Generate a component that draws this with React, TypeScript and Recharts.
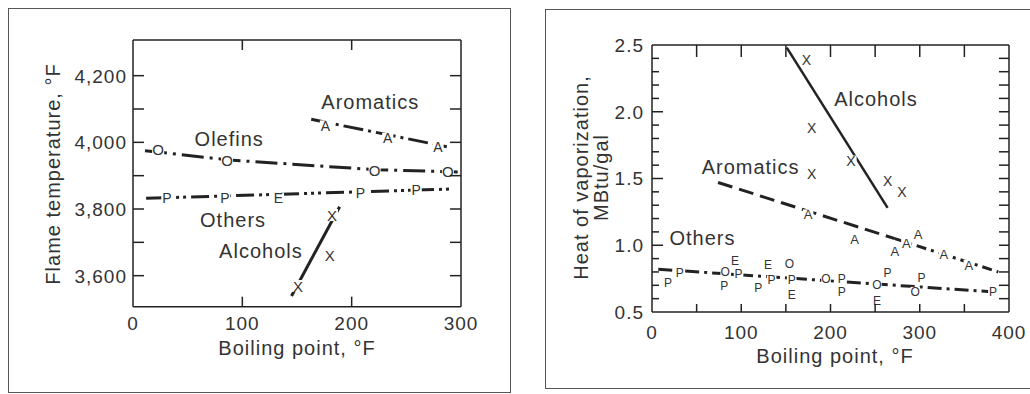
import React from 'react';
import { ComposedChart, Line, Scatter, XAxis, YAxis } from 'recharts';

const FONT = '"Liberation Sans", Arial, Helvetica, sans-serif';
const INK = '#222222';
const TEXT_INK = '#333333';

// ---------- Left panel: flame temperature ----------
const flameXDomain = [0, 300];
const flameYDomain = [3507, 4307];
const flameXLabels = [0, 100, 200, 300];
const flameXTickMarks = [100, 200];
const flameYLabels = [3600, 3800, 4000, 4200];
const flameYTickMarks = [3600, 3700, 3800, 3900, 4000, 4100, 4200];

const flameAromaticsLine = [{ x: 163, y: 4069 }, { x: 287, y: 3987 }];
const flameOlefinsLine = [{ x: 11, y: 3975 }, { x: 88, y: 3947 }, { x: 221, y: 3918 }, { x: 297, y: 3911 }];
const flameOthersLine = [{ x: 12, y: 3832 }, { x: 292, y: 3860 }];
const flameAlcoholsLine = [{ x: 145, y: 3539 }, { x: 189, y: 3807 }];

const flameAromaticsPoints = [
  { x: 176, y: 4049, m: 'A' },
  { x: 233, y: 4012, m: 'A' },
  { x: 279, y: 3987, m: 'A' },
];
const flameOlefinsPoints = [
  { x: 23, y: 3980, m: 'O' },
  { x: 86, y: 3947, m: 'O' },
  { x: 221, y: 3917, m: 'O' },
  { x: 288, y: 3912, m: 'O' },
];
const flameOthersPoints = [
  { x: 31, y: 3832, m: 'P' },
  { x: 84, y: 3834, m: 'P' },
  { x: 133, y: 3832, m: 'E' },
  { x: 208, y: 3849, m: 'P' },
  { x: 259, y: 3857, m: 'P' },
];
const flameAlcoholsPoints = [
  { x: 151, y: 3569, m: 'X' },
  { x: 180, y: 3662, m: 'X' },
  { x: 182, y: 3782, m: 'X' },
];
const flameSeriesLabels = [
  { x: 217, y: 4101, text: 'Aromatics' },
  { x: 88, y: 3990, text: 'Olefins' },
  { x: 91.5, y: 3747, text: 'Others' },
  { x: 117, y: 3653, text: 'Alcohols' },
];

// ---------- Right panel: heat of vaporization ----------
const heatXDomain = [0, 400];
const heatYDomain = [0.5, 2.5];
const heatXLabels = [0, 100, 200, 300, 400];
const heatXTickMarks = [50, 100, 150, 200, 250, 300, 350];
const heatYLabels = [0.5, 1.0, 1.5, 2.0, 2.5];
const heatYTickMarks = [0.6, 0.7, 0.8, 0.9, 1.0, 1.1, 1.2, 1.3, 1.4, 1.5, 1.6, 1.7, 1.8, 1.9, 2.0, 2.1, 2.2, 2.3, 2.4];
const heatYMajorTickMarks = [1.0, 1.5, 2.0];

const heatAlcoholsLine = [{ x: 151, y: 2.48 }, { x: 264, y: 1.28 }];
const heatAromaticsDashed = [{ x: 74, y: 1.47 }, { x: 272, y: 1.05 }];
const heatAromaticsDashDot = [{ x: 272, y: 1.05 }, { x: 388, y: 0.8 }];
const heatOthersLine = [{ x: 7, y: 0.82 }, { x: 384, y: 0.65 }];

const heatAlcoholsPoints = [
  { x: 173, y: 2.39, m: 'X' },
  { x: 179, y: 1.88, m: 'X' },
  { x: 179, y: 1.53, m: 'X' },
  { x: 223, y: 1.63, m: 'X' },
  { x: 264, y: 1.48, m: 'X' },
  { x: 280, y: 1.4, m: 'X' },
];
const heatAromaticsPoints = [
  { x: 175, y: 1.23, m: 'A' },
  { x: 227, y: 1.04, m: 'A' },
  { x: 272, y: 0.95, m: 'A' },
  { x: 285, y: 1.01, m: 'A' },
  { x: 298, y: 1.08, m: 'A' },
  { x: 327, y: 0.93, m: 'A' },
  { x: 355, y: 0.852, m: 'A' },
];
const heatOthersPoints = [
  { x: 18, y: 0.715, m: 'P' },
  { x: 31, y: 0.795, m: 'P' },
  { x: 81, y: 0.698, m: 'P' },
  { x: 82, y: 0.798, m: 'O' },
  { x: 93, y: 0.882, m: 'E' },
  { x: 97, y: 0.782, m: 'P' },
  { x: 119, y: 0.678, m: 'P' },
  { x: 130, y: 0.855, m: 'E' },
  { x: 134, y: 0.738, m: 'P' },
  { x: 154, y: 0.862, m: 'O' },
  { x: 156.5, y: 0.74, m: 'P' },
  { x: 156.5, y: 0.625, m: 'E' },
  { x: 195, y: 0.745, m: 'O' },
  { x: 212.5, y: 0.748, m: 'P' },
  { x: 212.5, y: 0.648, m: 'P' },
  { x: 252, y: 0.702, m: 'O' },
  { x: 252, y: 0.585, m: 'E' },
  { x: 264, y: 0.79, m: 'P' },
  { x: 295, y: 0.652, m: 'O' },
  { x: 302, y: 0.755, m: 'P' },
  { x: 382, y: 0.652, m: 'P' },
];
const heatSeriesLabels = [
  { x: 251, y: 2.043, text: 'Alcohols' },
  { x: 110.5, y: 1.534, text: 'Aromatics' },
  { x: 56.5, y: 1.002, text: 'Others' },
];

// ---------- plot boxes (page px), matching the chart margins below ----------
const LEFT_BOX = { left: 133, top: 40, width: 328, height: 266.67 };
const RIGHT_BOX = { left: 520 + 132, top: 45, width: 357, height: 267 };

// ---------- shared renderers ----------
const TICK_FONT = 19;
const axisLineStyle = { stroke: INK, strokeWidth: 1.5 };

const bottomLabel = (baselineGap: number) => (props: any) => {
  const { x, y, payload } = props;
  return (
    <text
      x={x}
      y={Number(y) + baselineGap}
      textAnchor="middle"
      fontSize={TICK_FONT}
      letterSpacing={1}
      fontFamily={FONT}
      fill={TEXT_INK}
    >
      {String(payload.value)}
    </text>
  );
};

const leftLabel = (gap: number, fmt: (v: number) => string) => (props: any) => {
  const { x, y, payload } = props;
  return (
    <text
      x={Number(x) - gap}
      y={y}
      dy="0.36em"
      textAnchor="end"
      fontSize={TICK_FONT}
      letterSpacing={1}
      fontFamily={FONT}
      fill={TEXT_INK}
    >
      {fmt(payload.value)}
    </text>
  );
};

const letterShape = (size: number) => (props: any) => {
  const { cx, cy, payload } = props;
  const w = size * 0.8;
  const h = size * 0.8;
  return (
    <g>
      <rect x={cx - w / 2} y={cy - h / 2} width={w} height={h} fill="#ffffff" />
      <text
        x={cx}
        y={cy}
        textAnchor="middle"
        dominantBaseline="central"
        fontSize={size}
        fontFamily={FONT}
        fill={TEXT_INK}
      >
        {payload.m}
      </text>
    </g>
  );
};

const annotationShape = (props: any) => {
  const { cx, cy, payload } = props;
  return (
    <text x={cx} y={cy} textAnchor="middle" fontSize={20} letterSpacing={1} fontFamily={FONT} fill={TEXT_INK}>
      {payload.text}
    </text>
  );
};

const titleStyle = { fontSize: 20, letterSpacing: 1, fontFamily: FONT, fill: TEXT_INK } as const;

// ---------- inward tick marks for the frame (overlay, same linear mapping as the axes) ----------
type Box = { left: number; top: number; width: number; height: number };
const xPx = (box: Box, d: number[], v: number) => box.left + ((v - d[0]) / (d[1] - d[0])) * box.width;
const yPx = (box: Box, d: number[], v: number) => box.top + box.height - ((v - d[0]) / (d[1] - d[0])) * box.height;

const FrameTicks = ({
  box,
  xd,
  yd,
  xTicks,
  yTicks,
  yMajor,
  bottomLen,
  topLen,
  leftLen,
  leftMajorLen,
  rightLen,
}: {
  box: Box;
  xd: number[];
  yd: number[];
  xTicks: number[];
  yTicks: number[];
  yMajor: number[];
  bottomLen: number;
  topLen: number;
  leftLen: number;
  leftMajorLen: number;
  rightLen: number;
}) => {
  const bottom = box.top + box.height;
  const right = box.left + box.width;
  const isMajor = (v: number) => yMajor.some((m) => Math.abs(m - v) < 1e-6);
  return (
    <g stroke={INK} strokeWidth={1.5}>
      {xTicks.map((v) => {
        const x = xPx(box, xd, v);
        return (
          <g key={`x${v}`}>
            <line x1={x} x2={x} y1={bottom} y2={bottom - bottomLen} />
            <line x1={x} x2={x} y1={box.top} y2={box.top + topLen} />
          </g>
        );
      })}
      {yTicks.map((v) => {
        const y = yPx(box, yd, v);
        return (
          <g key={`y${v}`}>
            <line x1={box.left} x2={box.left + (isMajor(v) ? leftMajorLen : leftLen)} y1={y} y2={y} />
            <line x1={right} x2={right - rightLen} y1={y} y2={y} />
          </g>
        );
      })}
    </g>
  );
};

export default function App() {
  return (
    <div
      style={{
        position: 'absolute',
        left: 0,
        top: 0,
        width: 1030,
        height: 394,
        background: '#ffffff',
        overflow: 'hidden',
        fontFamily: FONT,
      }}
    >
      <div
        style={{
          position: 'absolute',
          left: 7.5,
          top: 7.5,
          width: 503,
          height: 385,
          border: '1.5px solid #555',
          boxSizing: 'border-box',
        }}
      />
      <div
        style={{
          position: 'absolute',
          left: 544.5,
          top: 8.5,
          width: 540,
          height: 380.5,
          border: '1.5px solid #555',
          boxSizing: 'border-box',
        }}
      />

      {/* Left chart */}
      <div style={{ position: 'absolute', left: 0, top: 0 }}>
        <ComposedChart
          width={520}
          height={394}
          margin={{ top: 40, right: 59, bottom: 57.33, left: 73 }}
          style={{ fontFamily: FONT }}
        >
          <XAxis
            type="number"
            dataKey="x"
            domain={flameXDomain}
            allowDataOverflow
            ticks={flameXLabels}
            interval={0}
            tickLine={false}
            tickSize={0}
            tickMargin={0}
            axisLine={axisLineStyle}
            tick={bottomLabel(23.6)}
            height={30}
            label={() => (
              <text x={297} y={354.5} textAnchor="middle" {...titleStyle}>
                Boiling point, °F
              </text>
            )}
          />
          <XAxis
            xAxisId="tm"
            orientation="top"
            type="number"
            domain={flameXDomain}
            allowDataOverflow
            mirror
            tick={false}
            tickLine={false}
            axisLine={axisLineStyle}
            height={1}
          />
          <YAxis
            type="number"
            dataKey="y"
            domain={flameYDomain}
            allowDataOverflow
            ticks={flameYLabels}
            interval={0}
            tickLine={false}
            tickSize={0}
            tickMargin={0}
            axisLine={axisLineStyle}
            tick={leftLabel(6, (v) => v.toLocaleString('en-US'))}
            width={60}
            label={() => (
              <text x={60} y={174} textAnchor="middle" transform="rotate(-90 60 174)" {...titleStyle}>
                Flame temperature, °F
              </text>
            )}
          />
          <YAxis
            yAxisId="rm"
            orientation="right"
            type="number"
            domain={flameYDomain}
            allowDataOverflow
            mirror
            tick={false}
            tickLine={false}
            axisLine={axisLineStyle}
            width={1}
          />

          <Line data={flameAromaticsLine} dataKey="y" type="linear" stroke={INK} strokeWidth={3} strokeDasharray="20 5 3 5" dot={false} activeDot={false} isAnimationActive={false} />
          <Line data={flameOlefinsLine} dataKey="y" type="linear" stroke={INK} strokeWidth={3} strokeDasharray="22 6 3 6" dot={false} activeDot={false} isAnimationActive={false} />
          <Line data={flameOthersLine} dataKey="y" type="linear" stroke={INK} strokeWidth={3} strokeDasharray="18 5 3 4 3 4 3 5" dot={false} activeDot={false} isAnimationActive={false} />
          <Line data={flameAlcoholsLine} dataKey="y" type="linear" stroke={INK} strokeWidth={3} dot={false} activeDot={false} isAnimationActive={false} />

          <Scatter data={flameAromaticsPoints} shape={letterShape(14)} isAnimationActive={false} />
          <Scatter data={flameOlefinsPoints} shape={letterShape(15)} isAnimationActive={false} />
          <Scatter data={flameOthersPoints} shape={letterShape(14)} isAnimationActive={false} />
          <Scatter data={flameAlcoholsPoints} shape={letterShape(15)} isAnimationActive={false} />
          <Scatter data={flameSeriesLabels} shape={annotationShape} isAnimationActive={false} />
        </ComposedChart>
      </div>

      {/* Right chart */}
      <div style={{ position: 'absolute', left: 520, top: 0 }}>
        <ComposedChart
          width={510}
          height={394}
          margin={{ top: 45, right: 21, bottom: 52, left: 72 }}
          style={{ fontFamily: FONT }}
        >
          <XAxis
            type="number"
            dataKey="x"
            domain={heatXDomain}
            allowDataOverflow
            ticks={heatXLabels}
            interval={0}
            tickLine={false}
            tickSize={0}
            tickMargin={0}
            axisLine={axisLineStyle}
            tick={bottomLabel(26.6)}
            height={30}
            label={() => (
              <text x={315} y={362.5} textAnchor="middle" {...titleStyle}>
                Boiling point, °F
              </text>
            )}
          />
          <XAxis
            xAxisId="tm"
            orientation="top"
            type="number"
            domain={heatXDomain}
            allowDataOverflow
            mirror
            tick={false}
            tickLine={false}
            axisLine={axisLineStyle}
            height={1}
          />
          <YAxis
            type="number"
            dataKey="y"
            domain={heatYDomain}
            allowDataOverflow
            ticks={heatYLabels}
            interval={0}
            tickLine={false}
            tickSize={0}
            tickMargin={0}
            axisLine={axisLineStyle}
            tick={leftLabel(8, (v) => v.toFixed(1))}
            width={60}
            label={() => (
              <g>
                <text x={67.5} y={177.5} textAnchor="middle" transform="rotate(-90 67.5 177.5)" {...titleStyle}>
                  Heat of vaporization,
                </text>
                <text x={87.5} y={177.5} textAnchor="middle" transform="rotate(-90 87.5 177.5)" {...titleStyle}>
                  MBtu/gal
                </text>
              </g>
            )}
          />
          <YAxis
            yAxisId="rm"
            orientation="right"
            type="number"
            domain={heatYDomain}
            allowDataOverflow
            mirror
            tick={false}
            tickLine={false}
            axisLine={axisLineStyle}
            width={1}
          />

          <Line data={heatAlcoholsLine} dataKey="y" type="linear" stroke={INK} strokeWidth={2.5} dot={false} activeDot={false} isAnimationActive={false} />
          <Line data={heatAromaticsDashed} dataKey="y" type="linear" stroke={INK} strokeWidth={3} strokeDasharray="15 7" dot={false} activeDot={false} isAnimationActive={false} />
          <Line data={heatAromaticsDashDot} dataKey="y" type="linear" stroke={INK} strokeWidth={3} strokeDasharray="10 5 3 5" dot={false} activeDot={false} isAnimationActive={false} />
          <Line data={heatOthersLine} dataKey="y" type="linear" stroke={INK} strokeWidth={3} strokeDasharray="14 5 3 5" dot={false} activeDot={false} isAnimationActive={false} />

          <Scatter data={heatAlcoholsPoints} shape={letterShape(14)} isAnimationActive={false} />
          <Scatter data={heatAromaticsPoints} shape={letterShape(13)} isAnimationActive={false} />
          <Scatter data={heatOthersPoints} shape={letterShape(12)} isAnimationActive={false} />
          <Scatter data={heatSeriesLabels} shape={annotationShape} isAnimationActive={false} />
        </ComposedChart>
      </div>

      {/* inward frame tick marks */}
      <svg
        width={1030}
        height={394}
        style={{ position: 'absolute', left: 0, top: 0, pointerEvents: 'none' }}
      >
        <FrameTicks
          box={LEFT_BOX}
          xd={flameXDomain}
          yd={flameYDomain}
          xTicks={flameXTickMarks}
          yTicks={flameYTickMarks}
          yMajor={[]}
          bottomLen={10}
          topLen={10}
          leftLen={11}
          leftMajorLen={11}
          rightLen={11}
        />
        <FrameTicks
          box={RIGHT_BOX}
          xd={heatXDomain}
          yd={heatYDomain}
          xTicks={heatXTickMarks}
          yTicks={heatYTickMarks}
          yMajor={heatYMajorTickMarks}
          bottomLen={8}
          topLen={12}
          leftLen={7}
          leftMajorLen={11}
          rightLen={10}
        />
      </svg>
    </div>
  );
}
